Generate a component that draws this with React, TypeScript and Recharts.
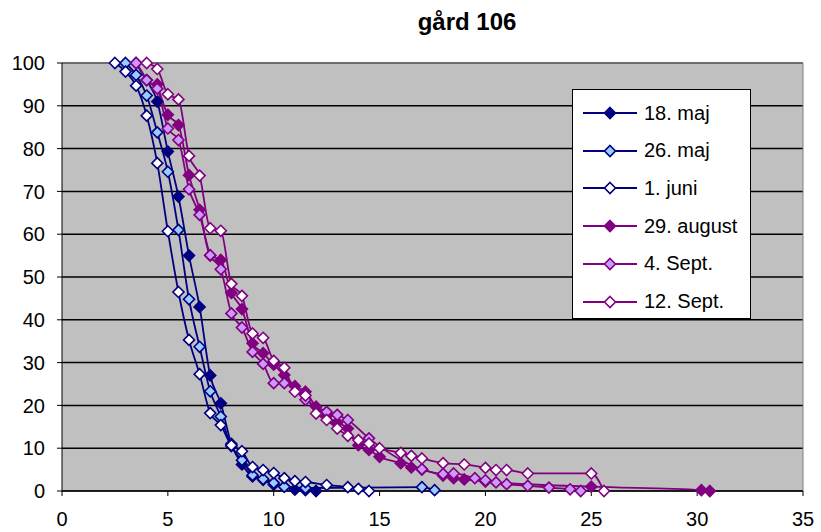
import { LineChart, Line, XAxis, YAxis, CartesianGrid, ReferenceLine } from 'recharts';

// sieve curves, gård 106 (x = size, y = % passing)
const maj18 = [
  { x: 3.5, y: 100 }, { x: 4.0, y: 96 }, { x: 4.5, y: 91 }, { x: 5.0, y: 79.3 }, { x: 5.5, y: 68.8 },
  { x: 6.0, y: 55 }, { x: 6.5, y: 43 }, { x: 7.0, y: 27 }, { x: 7.5, y: 20.5 }, { x: 8.0, y: 11 },
  { x: 8.5, y: 6.2 }, { x: 9.0, y: 3.4 }, { x: 9.5, y: 2.6 }, { x: 10.0, y: 1.5 }, { x: 10.5, y: 1.0 },
  { x: 11.0, y: 0.3 }, { x: 11.5, y: 0.2 }, { x: 12.0, y: 0 },
];
const maj26 = [
  { x: 3.0, y: 100 }, { x: 3.5, y: 97.2 }, { x: 4.0, y: 92.4 }, { x: 4.5, y: 83.8 }, { x: 5.0, y: 74.6 },
  { x: 5.5, y: 61 }, { x: 6.0, y: 44.8 }, { x: 6.5, y: 33.7 }, { x: 7.0, y: 23.3 }, { x: 7.5, y: 17.4 },
  { x: 8.0, y: 10.5 }, { x: 8.5, y: 7.2 }, { x: 9.0, y: 3.7 }, { x: 9.5, y: 2.8 }, { x: 10.0, y: 1.9 },
  { x: 10.5, y: 1.0 }, { x: 11.5, y: 0.7 }, { x: 17.0, y: 0.9 }, { x: 17.6, y: 0.2 },
];
const juni1 = [
  { x: 2.5, y: 100 }, { x: 3.0, y: 98 }, { x: 3.5, y: 94.7 }, { x: 4.0, y: 87.7 }, { x: 4.5, y: 76.6 },
  { x: 5.0, y: 60.7 }, { x: 5.5, y: 46.5 }, { x: 6.0, y: 35.3 }, { x: 6.5, y: 27.3 }, { x: 7.0, y: 18.2 },
  { x: 7.5, y: 15.4 }, { x: 8.0, y: 10.7 }, { x: 8.5, y: 9.3 }, { x: 9.0, y: 5.6 }, { x: 9.5, y: 4.9 },
  { x: 10.0, y: 4.2 }, { x: 10.5, y: 3.0 }, { x: 11.0, y: 2.3 }, { x: 11.5, y: 2.1 }, { x: 12.5, y: 1.4 },
  { x: 13.5, y: 0.9 }, { x: 14.0, y: 0.5 }, { x: 14.5, y: 0 },
];
const aug29 = [
  { x: 4.5, y: 95 }, { x: 5.0, y: 87.9 }, { x: 5.5, y: 85.5 }, { x: 6.0, y: 73.8 }, { x: 6.5, y: 65.7 },
  { x: 7.0, y: 55 }, { x: 7.5, y: 54 }, { x: 8.0, y: 46.3 }, { x: 8.5, y: 42.5 }, { x: 9.0, y: 34.5 },
  { x: 9.5, y: 32.2 }, { x: 10.0, y: 29.5 }, { x: 10.5, y: 27.1 }, { x: 11.0, y: 24.5 }, { x: 11.5, y: 23.2 },
  { x: 12.0, y: 19.7 }, { x: 12.5, y: 17.5 }, { x: 13.0, y: 16 }, { x: 13.5, y: 14.6 }, { x: 14.0, y: 10.7 },
  { x: 14.5, y: 9.6 }, { x: 15.0, y: 8.0 }, { x: 16.0, y: 6.5 }, { x: 16.5, y: 5.5 }, { x: 17.0, y: 5.0 },
  { x: 18.0, y: 3.6 }, { x: 18.5, y: 3.0 }, { x: 19.0, y: 2.7 }, { x: 20.0, y: 2.2 }, { x: 25.0, y: 1.0 },
  { x: 30.2, y: 0.2 }, { x: 30.6, y: 0 },
];
const sept4 = [
  { x: 3.5, y: 100 }, { x: 4.0, y: 96 }, { x: 4.5, y: 94 }, { x: 5.0, y: 84.7 }, { x: 5.5, y: 82 },
  { x: 6.0, y: 70.5 }, { x: 6.5, y: 64.5 }, { x: 7.0, y: 55.1 }, { x: 7.5, y: 51.8 }, { x: 8.0, y: 41.5 },
  { x: 8.5, y: 38.2 }, { x: 9.0, y: 32.5 }, { x: 9.5, y: 29.7 }, { x: 10.0, y: 25.2 }, { x: 10.5, y: 25.2 },
  { x: 11.5, y: 21.3 }, { x: 12.5, y: 18.5 }, { x: 13.0, y: 17.8 }, { x: 13.5, y: 16.6 }, { x: 14.5, y: 12.3 },
  { x: 17.0, y: 5.1 }, { x: 18.0, y: 4.0 }, { x: 18.5, y: 4.1 }, { x: 19.5, y: 3.0 }, { x: 20.0, y: 2.5 },
  { x: 20.5, y: 2.0 }, { x: 21.0, y: 1.6 }, { x: 22.0, y: 1.2 }, { x: 23.0, y: 0.8 }, { x: 24.0, y: 0.4 },
  { x: 24.5, y: 0 },
];
const sept12 = [
  { x: 4.0, y: 100 }, { x: 4.5, y: 98.6 }, { x: 5.0, y: 92.7 }, { x: 5.5, y: 91.5 }, { x: 6.0, y: 78.3 },
  { x: 6.5, y: 73.7 }, { x: 7.0, y: 61.4 }, { x: 7.5, y: 60.8 }, { x: 8.0, y: 48.4 }, { x: 8.5, y: 45.6 },
  { x: 9.0, y: 36.8 }, { x: 9.5, y: 35.8 }, { x: 10.0, y: 30.4 }, { x: 10.5, y: 28.8 }, { x: 11.0, y: 23.2 },
  { x: 11.5, y: 22.3 }, { x: 12.0, y: 18.1 }, { x: 12.5, y: 16.6 }, { x: 13.0, y: 14.6 }, { x: 13.5, y: 12.9 },
  { x: 14.0, y: 11.9 }, { x: 14.5, y: 11.1 }, { x: 15.0, y: 10.0 }, { x: 16.0, y: 8.9 }, { x: 16.5, y: 8.2 },
  { x: 17.0, y: 7.6 }, { x: 18.0, y: 6.5 }, { x: 19.0, y: 6.2 }, { x: 20.0, y: 5.4 }, { x: 20.5, y: 4.9 },
  { x: 21.0, y: 4.9 }, { x: 22.0, y: 4.1 }, { x: 25.0, y: 4.1 }, { x: 25.6, y: 0 },
];

const xTicks = [0, 5, 10, 15, 20, 25, 30, 35];
const yTicks = [0, 10, 20, 30, 40, 50, 60, 70, 80, 90, 100];

const NAVY = '#000080';
const PURPLE = '#800080';

const series = [
  { name: '18. maj', data: maj18, stroke: NAVY, fill: NAVY },
  { name: '26. maj', data: maj26, stroke: NAVY, fill: '#99CCFF' },
  { name: '1. juni', data: juni1, stroke: NAVY, fill: '#FFFFFF' },
  { name: '29. august', data: aug29, stroke: PURPLE, fill: PURPLE },
  { name: '4. Sept.', data: sept4, stroke: PURPLE, fill: '#CC99FF' },
  { name: '12. Sept.', data: sept12, stroke: PURPLE, fill: '#FFFFFF' },
];

const FONT = '"Liberation Sans", Arial, sans-serif';

const diamondPath = (cx: number, cy: number, r: number) =>
  `M${cx},${cy - r}L${cx + r},${cy}L${cx},${cy + r}L${cx - r},${cy}Z`;

const makeDot = (stroke: string, fill: string) => (p: any) => {
  if (p.cx == null || p.cy == null) return <g key={p.index} />;
  return <path key={p.index} d={diamondPath(p.cx, p.cy, 5.5)} fill={fill} stroke={stroke} strokeWidth={1.6} />;
};

function LegendBox() {
  return (
    <div
      style={{
        position: 'absolute', left: 572, top: 89, width: 177, height: 228,
        background: '#fff', border: '1px solid #000', fontFamily: FONT, fontSize: 20,
      }}
    >
      {series.map((s, i) => (
        <div key={s.name} style={{ position: 'absolute', left: 0, top: 4 + i * 37.7, height: 38, display: 'flex', alignItems: 'center' }}>
          <svg width={66} height={20} style={{ marginLeft: 4 }}>
            <line x1={6} y1={10} x2={60} y2={10} stroke={s.stroke} strokeWidth={2} />
            <path d={diamondPath(33, 10, 5.5)} fill={s.fill} stroke={s.stroke} strokeWidth={1.6} />
          </svg>
          <span style={{ marginLeft: 1, color: '#000' }}>{s.name}</span>
        </div>
      ))}
    </div>
  );
}

export default function App() {
  return (
    <div style={{ position: 'absolute', left: 0, top: 0, width: 821, height: 532, background: '#fff', fontFamily: FONT }}>
      <div style={{ position: 'absolute', left: 367, width: 200, top: 8, textAlign: 'center', fontWeight: 'bold', fontSize: 24 }}>
        gård 106
      </div>
      <LineChart width={821} height={532} margin={{ top: 63, right: 18, bottom: 0, left: 0 }}>
        <CartesianGrid vertical={false} stroke="#000" strokeWidth={1.5} fill="#C0C0C0" fillOpacity={1} />
        <XAxis
          type="number"
          dataKey="x"
          domain={[0, 35]}
          ticks={xTicks}
          interval={0}
          height={41}
          stroke="#000"
          tickSize={5}
          tickMargin={16}
          tick={{ fill: '#000', fontSize: 20, fontFamily: FONT }}
          allowDataOverflow
        />
        <YAxis
          type="number"
          domain={[0, 100]}
          ticks={yTicks}
          interval={0}
          width={62}
          stroke="#000"
          tickSize={5}
          tickMargin={12}
          tick={{ fill: '#000', fontSize: 20, fontFamily: FONT }}
        />
        <ReferenceLine y={100} stroke="#808080" strokeWidth={1.5} />
        <ReferenceLine x={35} stroke="#808080" strokeWidth={1} />
        {series.map((s) => (
          <Line
            key={s.name}
            data={s.data}
            dataKey="y"
            name={s.name}
            type="monotone"
            stroke={s.stroke}
            strokeWidth={1.8}
            dot={makeDot(s.stroke, s.fill)}
            activeDot={false}
            isAnimationActive={false}
          />
        ))}
      </LineChart>
      <LegendBox />
    </div>
  );
}
